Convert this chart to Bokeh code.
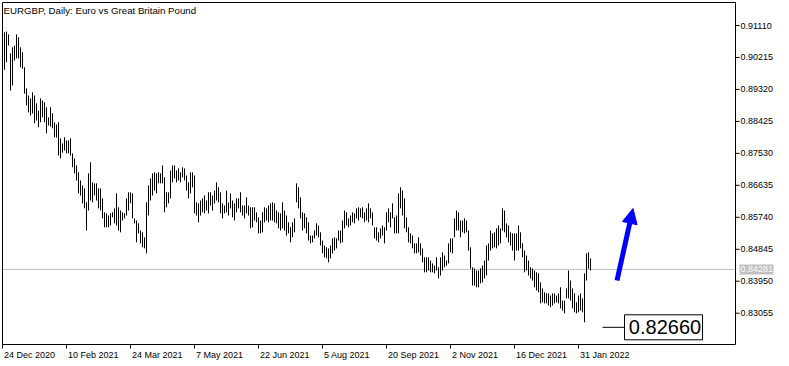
from bokeh.plotting import figure
from bokeh.models import Arrow, NormalHead, ColumnDataSource
from bokeh.embed import file_html
from bokeh.resources import INLINE
from bokeh.core.properties import value

# ---------------- data ----------------
title_text = "EURGBP, Daily:  Euro vs Great Britain Pound"

bar_high = [
    0.9092, 0.9094, 0.9086, 0.9033, 0.9050, 0.9055, 0.9086, 0.9078, 0.9050, 0.9036,
    0.8994, 0.8935, 0.8915, 0.8907, 0.8924, 0.8915, 0.8893, 0.8873, 0.8907, 0.8901,
    0.8896, 0.8882, 0.8854, 0.8882, 0.8865, 0.8840, 0.8834, 0.8840, 0.8795, 0.8781,
    0.8798, 0.8789, 0.8789, 0.8795, 0.8753, 0.8739, 0.8719, 0.8700, 0.8677, 0.8663,
    0.8655, 0.8616, 0.8697, 0.8728, 0.8672, 0.8669, 0.8669, 0.8655, 0.8655, 0.8627,
    0.8588, 0.8585, 0.8579, 0.8585, 0.8588, 0.8599, 0.8641, 0.8602, 0.8593, 0.8588,
    0.8585, 0.8627, 0.8644, 0.8644, 0.8641, 0.8571, 0.8565, 0.8557, 0.8537, 0.8532,
    0.8518, 0.8616, 0.8663, 0.8683, 0.8697, 0.8700, 0.8697, 0.8700, 0.8697, 0.8719,
    0.8686, 0.8644, 0.8644, 0.8705, 0.8719, 0.8719, 0.8705, 0.8711, 0.8700, 0.8714,
    0.8711, 0.8691, 0.8672, 0.8700, 0.8700, 0.8691, 0.8616, 0.8613, 0.8621, 0.8627,
    0.8635, 0.8621, 0.8644, 0.8644, 0.8635, 0.8649, 0.8672, 0.8658, 0.8644, 0.8613,
    0.8607, 0.8649, 0.8616, 0.8641, 0.8621, 0.8613, 0.8627, 0.8627, 0.8644, 0.8607,
    0.8607, 0.8630, 0.8607, 0.8602, 0.8602, 0.8602, 0.8588, 0.8574, 0.8565, 0.8588,
    0.8602, 0.8599, 0.8607, 0.8613, 0.8616, 0.8613, 0.8593, 0.8588, 0.8585, 0.8616,
    0.8593, 0.8579, 0.8560, 0.8546, 0.8560, 0.8571, 0.8669, 0.8658, 0.8630, 0.8588,
    0.8585, 0.8574, 0.8560, 0.8523, 0.8523, 0.8537, 0.8557, 0.8551, 0.8532, 0.8509,
    0.8495, 0.8490, 0.8487, 0.8495, 0.8515, 0.8518, 0.8515, 0.8537, 0.8537, 0.8565,
    0.8593, 0.8588, 0.8571, 0.8579, 0.8588, 0.8585, 0.8599, 0.8602, 0.8599, 0.8602,
    0.8588, 0.8599, 0.8613, 0.8599, 0.8588, 0.8546, 0.8546, 0.8532, 0.8543, 0.8551,
    0.8546, 0.8588, 0.8599, 0.8588, 0.8613, 0.8574, 0.8579, 0.8641, 0.8658, 0.8649,
    0.8627, 0.8574, 0.8546, 0.8529, 0.8523, 0.8501, 0.8501, 0.8518, 0.8501, 0.8487,
    0.8462, 0.8462, 0.8462, 0.8453, 0.8445, 0.8439, 0.8462, 0.8434, 0.8462, 0.8476,
    0.8467, 0.8453, 0.8501, 0.8515, 0.8515, 0.8571, 0.8593, 0.8588, 0.8565, 0.8565,
    0.8571, 0.8565, 0.8537, 0.8490, 0.8434, 0.8431, 0.8425, 0.8425, 0.8431, 0.8439,
    0.8453, 0.8495, 0.8501, 0.8537, 0.8529, 0.8532, 0.8543, 0.8551, 0.8543, 0.8599,
    0.8593, 0.8557, 0.8551, 0.8532, 0.8529, 0.8529, 0.8529, 0.8551, 0.8532, 0.8501,
    0.8481, 0.8467, 0.8453, 0.8434, 0.8431, 0.8425, 0.8420, 0.8417, 0.8392, 0.8375,
    0.8364, 0.8361, 0.8361, 0.8355, 0.8361, 0.8361, 0.8355, 0.8361, 0.8378, 0.8341,
    0.8341, 0.8375, 0.8425, 0.8397, 0.8375, 0.8361, 0.8336, 0.8355, 0.8361, 0.8347,
    0.8417, 0.8473, 0.8476, 0.8459,
]

bar_low = [
    0.8987, 0.9008, 0.9055, 0.8929, 0.8943, 0.9013, 0.9019, 0.9019, 0.8994, 0.8990,
    0.8920, 0.8887, 0.8868, 0.8859, 0.8865, 0.8837, 0.8845, 0.8826, 0.8840, 0.8854,
    0.8840, 0.8809, 0.8831, 0.8828, 0.8823, 0.8798, 0.8797, 0.8747, 0.8739, 0.8755,
    0.8761, 0.8753, 0.8753, 0.8747, 0.8714, 0.8697, 0.8677, 0.8641, 0.8635, 0.8613,
    0.8599, 0.8537, 0.8593, 0.8621, 0.8616, 0.8635, 0.8621, 0.8599, 0.8593, 0.8571,
    0.8546, 0.8546, 0.8546, 0.8551, 0.8574, 0.8557, 0.8551, 0.8537, 0.8532, 0.8565,
    0.8571, 0.8579, 0.8593, 0.8613, 0.8571, 0.8557, 0.8504, 0.8529, 0.8501, 0.8490,
    0.8487, 0.8473, 0.8579, 0.8621, 0.8635, 0.8649, 0.8641, 0.8669, 0.8669, 0.8669,
    0.8588, 0.8602, 0.8613, 0.8627, 0.8672, 0.8683, 0.8672, 0.8677, 0.8672, 0.8686,
    0.8677, 0.8649, 0.8627, 0.8641, 0.8658, 0.8585, 0.8579, 0.8560, 0.8579, 0.8588,
    0.8585, 0.8593, 0.8585, 0.8607, 0.8593, 0.8613, 0.8621, 0.8616, 0.8585, 0.8571,
    0.8585, 0.8588, 0.8579, 0.8599, 0.8574, 0.8565, 0.8588, 0.8599, 0.8588, 0.8579,
    0.8571, 0.8585, 0.8579, 0.8543, 0.8546, 0.8565, 0.8560, 0.8529, 0.8529, 0.8532,
    0.8560, 0.8565, 0.8560, 0.8565, 0.8565, 0.8560, 0.8557, 0.8543, 0.8537, 0.8543,
    0.8537, 0.8523, 0.8529, 0.8504, 0.8518, 0.8532, 0.8616, 0.8599, 0.8571, 0.8537,
    0.8543, 0.8529, 0.8509, 0.8501, 0.8504, 0.8515, 0.8523, 0.8518, 0.8495, 0.8473,
    0.8462, 0.8459, 0.8448, 0.8459, 0.8473, 0.8481, 0.8487, 0.8509, 0.8501, 0.8504,
    0.8543, 0.8551, 0.8546, 0.8551, 0.8560, 0.8557, 0.8571, 0.8565, 0.8574, 0.8571,
    0.8560, 0.8565, 0.8560, 0.8571, 0.8551, 0.8515, 0.8509, 0.8504, 0.8515, 0.8523,
    0.8501, 0.8537, 0.8560, 0.8546, 0.8571, 0.8529, 0.8529, 0.8529, 0.8599, 0.8579,
    0.8543, 0.8532, 0.8504, 0.8501, 0.8487, 0.8473, 0.8473, 0.8476, 0.8467, 0.8448,
    0.8420, 0.8420, 0.8425, 0.8420, 0.8420, 0.8417, 0.8425, 0.8403, 0.8411, 0.8425,
    0.8434, 0.8439, 0.8445, 0.8476, 0.8473, 0.8518, 0.8537, 0.8537, 0.8518, 0.8532,
    0.8529, 0.8532, 0.8481, 0.8430, 0.8383, 0.8383, 0.8378, 0.8378, 0.8389, 0.8392,
    0.8403, 0.8411, 0.8453, 0.8481, 0.8487, 0.8490, 0.8487, 0.8495, 0.8501, 0.8537,
    0.8532, 0.8518, 0.8504, 0.8495, 0.8481, 0.8453, 0.8481, 0.8481, 0.8487, 0.8462,
    0.8420, 0.8425, 0.8411, 0.8403, 0.8397, 0.8378, 0.8369, 0.8364, 0.8333, 0.8336,
    0.8333, 0.8333, 0.8327, 0.8322, 0.8327, 0.8333, 0.8336, 0.8333, 0.8319, 0.8313,
    0.8305, 0.8347, 0.8347, 0.8341, 0.8319, 0.8308, 0.8305, 0.8308, 0.8313, 0.8308,
    0.8280, 0.8397, 0.8430, 0.8425,
]

last_price = 0.84281
marked_level = 0.82660
marked_text = "0.82660"

date_tick_index = [0, 32, 64, 96, 128, 160, 192, 224, 256, 288]
date_tick_labels = ["24 Dec 2020", "10 Feb 2021", "24 Mar 2021", "7 May 2021", "22 Jun 2021",
                    "5 Aug 2021", "20 Sep 2021", "2 Nov 2021", "16 Dec 2021", "31 Jan 2022"]

price_ticks = [0.91110, 0.90215, 0.89320, 0.88425, 0.87530,
               0.86635, 0.85740, 0.84845, 0.83950, 0.83055]
price_labels = ["0.91110", "0.90215", "0.89320", "0.88425", "0.87530",
                "0.86635", "0.85740", "0.84845", "0.83950", "0.83055"]

# ---------------- layout (pixel geometry of the MT-style chart) ----------------
W, H = 789, 366
PX_PER_BAR = 2.0
PX_PER_UNIT = 3571.7
XS = -2.0                        # index at the left canvas edge
XE = XS + W / PX_PER_BAR
YT = price_ticks[0] + 25 / PX_PER_UNIT   # price at the top canvas edge
YB = YT - H / PX_PER_UNIT


def xd(px):
    return XS + px / PX_PER_BAR


def yd(py):
    return YT - py / PX_PER_UNIT


FONT = "Liberation Sans"
FL, FT, FR, FB = 2, 2, 735, 344   # chart box edges (pixels)

p = figure(width=W, height=H, x_range=(XS, XE), y_range=(YB, YT),
           x_axis_type=None, y_axis_type=None, toolbar_location=None,
           output_backend="svg", title=None,
           min_border_left=0, min_border_right=0, min_border_top=0, min_border_bottom=0)
p.grid.visible = False
p.outline_line_color = None
p.background_fill_color = "white"
p.border_fill_color = "white"

# bid line
p.segment(x0=[xd(FL)], x1=[xd(FR)], y0=[last_price], y1=[last_price],
          line_color="#c0c0c0", line_width=1)

# OHLC bars (high-low lines)
src = ColumnDataSource(dict(x=list(range(len(bar_high))), hi=bar_high, lo=bar_low))
p.segment(x0="x", y0="lo", x1="x", y1="hi", source=src, line_color="black", line_width=1)

# chart box
p.quad(left=[xd(FL)], right=[xd(FR)], top=[yd(FT)], bottom=[yd(FB)],
       fill_color=None, line_color="black", line_width=1)

# price scale (right)
p.segment(x0=[xd(FR)] * len(price_ticks), x1=[xd(FR + 4)] * len(price_ticks),
          y0=price_ticks, y1=price_ticks, line_color="black", line_width=1)
p.text(x=[xd(740)] * len(price_ticks), y=price_ticks, text=price_labels,
       text_align="left", text_baseline="middle", text_font=value(FONT),
       text_font_size="9px", text_color="black")

# bid price tag
p.rect(x=[xd(756)], y=[last_price], width=[34], height=[10], width_units="screen",
       height_units="screen", fill_color="#c0c0c0", line_color=None)
p.text(x=[xd(740)], y=[last_price], text=[f"{last_price:.5f}"], text_align="left",
       text_baseline="middle", text_font=value(FONT), text_font_size="9px",
       text_color="white")

# time scale (bottom)
tick_x = [i - 1.0 for i in date_tick_index]
p.segment(x0=tick_x, x1=tick_x, y0=[yd(FB)] * len(tick_x), y1=[yd(FB + 4)] * len(tick_x),
          line_color="black", line_width=1)
p.text(x=[i - 0.25 for i in date_tick_index], y=[yd(354)] * len(date_tick_index),
       text=date_tick_labels, text_align="left", text_baseline="middle",
       text_font=value(FONT), text_font_size="9px", text_color="black")

# title
p.text(x=[xd(3)], y=[yd(9.5)], text=[title_text], text_align="left",
       text_baseline="middle", text_font=value(FONT), text_font_size="9.7px",
       text_color="black")

# marked level line + boxed value
p.segment(x0=[xd(602)], x1=[xd(624)], y0=[marked_level], y1=[marked_level],
          line_color="black", line_width=1)
p.rect(x=[xd(663)], y=[marked_level], width=[78], height=[25], width_units="screen",
       height_units="screen", fill_color="white", line_color="black", line_width=1)
p.text(x=[xd(664.5)], y=[marked_level], text=[marked_text], text_align="center",
       text_baseline="middle", text_font=value(FONT), text_font_size="20px",
       text_color="black")

# blue arrow
p.add_layout(Arrow(x_start=xd(616.5), y_start=yd(280), x_end=xd(632.5), y_end=yd(208),
                   line_color="#0000ff", line_width=5,
                   end=NormalHead(size=15, fill_color="#0000ff", line_color="#0000ff")))

open("out.html", "w").write(file_html(p, INLINE))
